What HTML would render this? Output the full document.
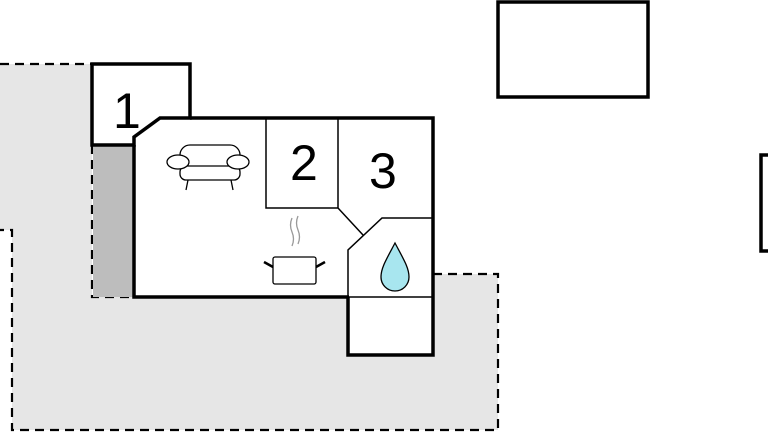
<!DOCTYPE html>
<html><head><meta charset="utf-8"><style>
html,body{margin:0;padding:0;background:#fff;width:768px;height:432px;overflow:hidden}
svg{display:block}
text{font-family:"Liberation Sans",sans-serif;font-size:50px;fill:#000}
</style></head><body>
<svg width="768" height="432" viewBox="0 0 768 432" xmlns="http://www.w3.org/2000/svg">
<path d="M0,64 L92,64 L92,297 L433,297 L433,274 L498,274 L498,430 L12,430 L12,230 L0,230 Z" fill="#e6e6e6"/>
<path d="M0,64 L92,64 M92,145 L92,297 L133,297 M433,274 L498,274 L498,430 L12,430 L12,230 L0,230" fill="none" stroke="#000" stroke-width="2.2" stroke-dasharray="9,6"/>
<rect x="93" y="145" width="41" height="152" fill="#bdbdbd"/>
<path d="M134,137 L160,118 L433,118 L433,297 L134,297 Z" fill="#fff"/>
<rect x="348" y="297" width="85" height="58" fill="#fff"/>
<path d="M92,64 L190,64 L190,118 L160,118 L134,137 L134,145 L92,145 Z" fill="#fff" stroke="#000" stroke-width="3.5"/>
<path d="M134,145 L134,297 L349,297 M190,118 L433,118 L433,355 L348,355 L348,297" fill="none" stroke="#000" stroke-width="3.5"/>
<path d="M134,138 L160,118" stroke="#000" stroke-width="1.5" fill="none"/>
<path d="M266,118 L266,208 L338,208 L338,118 M338,208 L363,235" fill="none" stroke="#000" stroke-width="1.5"/>
<path d="M348,297 L348,250 L382,218 L433,218 M348,297 L433,297" fill="none" stroke="#000" stroke-width="1.5"/>
<text x="113" y="128">1</text>
<text x="290" y="180">2</text>
<text x="369" y="188">3</text>
<g fill="#fff" stroke="#000" stroke-width="1.3">
<rect x="180" y="145" width="60" height="30" rx="10"/>
<rect x="180" y="166" width="60" height="14" rx="6"/>
<ellipse cx="178" cy="162" rx="11" ry="7"/>
<ellipse cx="238" cy="162" rx="11" ry="7"/>
<path d="M188,180 L186,190 M231,180 L233,190" fill="none"/>
</g>
<g stroke="#000" stroke-width="1.3" fill="#fff">
<rect x="273" y="257" width="43" height="27" rx="2"/>
<path d="M264,262 L273,267 M325,262 L316,267" stroke-width="2.5"/>
</g>
<path d="M292,218 q-3,7 0,14 q3,7 0,14 M298,216 q-3,7 0,14 q3,7 0,14" stroke="#999" stroke-width="1.3" fill="none"/>
<path d="M395,243 C386,260 381,268 381,277 A14,14 0 0 0 409,277 C409,268 404,260 395,243 Z" fill="#a8e6ef" stroke="#000" stroke-width="1.3"/>
<rect x="498" y="2" width="150" height="95" fill="none" stroke="#000" stroke-width="3.5"/>
<path d="M770,155 L761,155 L761,251 L770,251" fill="none" stroke="#000" stroke-width="3.5"/>
</svg>
</body></html>
